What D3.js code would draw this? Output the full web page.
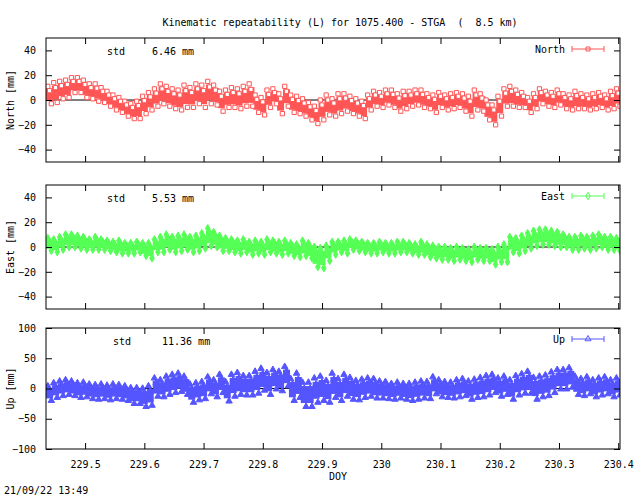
<!DOCTYPE html>
<html><head><meta charset="utf-8">
<script src="https://cdn.jsdelivr.net/npm/d3@7"></script>
<style>body{margin:0;background:#fff}text{font-family:"DejaVu Sans Mono",monospace;font-size:10px;white-space:pre}</style>
</head><body>
<script>
// bins every 0.01 DOY starting at 229.44
const doyStart = 229.44, doyStep = 0.01;
const northMid = [4,6,8,9,12,12,9,7,6,4,1,-2,-4,-7,-9,-8,-4,-1,2,5,3,1,0,3,2,5,3,6,4,-1,1,2,1,3,4,-3,-5,1,3,-3,3,-3,-4,-6,-9,-12,-8,-4,-6,-3,-2,-4,-6,-8,-2,1,0,2,1,-2,0,1,2,1,-1,-3,0,-2,-1,0,-2,-5,0,-2,-8,-12,-5,2,3,1,0,-4,-1,3,1,0,2,-1,-2,0,-1,-2,-1,0,-2,0,2];
const northAmp = [7,8,7,7,6,6,7,6,7,6,6,6,6,6,6,7,7,7,7,8,8,8,8,9,8,8,9,9,8,8,7,8,8,8,9,7,7,7,6,8,8,7,7,7,7,7,8,8,7,8,7,7,7,7,6,6,6,6,7,7,7,6,6,7,6,7,6,6,6,6,7,8,8,7,8,8,8,7,8,7,6,6,6,6,6,6,6,6,6,7,6,6,6,6,6,7,7];
const eastMid = [2,1,3,5,5,4,3,2,3,2,1,0,0,-1,-1,0,-2,-3,1,2,4,2,3,4,2,3,5,8,6,3,2,1,0,1,-1,0,-1,1,0,-1,0,-2,-3,-1,-3,-8,-9,-5,-1,0,0,2,1,0,-1,-1,0,-1,-1,0,0,-1,-2,-1,-3,-4,-5,-5,-6,-5,-6,-7,-5,-6,-6,-8,-6,-5,2,1,3,5,7,8,8,7,6,5,3,3,4,3,4,5,3,3,2];
const eastAmp = [5,5,5,5,5,5,5,4,5,4,4,4,5,4,4,4,5,6,5,6,6,6,6,6,6,6,6,7,6,6,5,5,5,5,5,5,5,5,5,5,5,5,5,6,6,8,8,6,5,4,5,4,4,4,4,4,4,4,4,4,4,4,4,5,5,5,5,5,5,5,5,5,5,5,5,6,6,7,6,6,6,6,6,6,6,6,6,5,5,5,5,5,5,5,5,5,5];
const upMid = [-8,-3,0,2,0,-3,-2,-5,-6,-5,-7,-5,-6,-8,-12,-12,-15,-12,2,0,5,8,10,5,-8,-5,-3,5,0,8,-5,5,8,5,5,10,15,8,15,12,20,-2,5,-10,-10,-3,0,-5,5,-2,5,0,-3,0,2,0,-2,-3,-5,-3,-5,-6,-4,-2,-3,5,0,-2,-3,0,2,-3,0,2,5,8,2,5,-2,5,8,10,0,3,5,10,15,15,18,5,2,5,0,3,5,0,3];
const upAmp = [12,12,12,12,12,12,12,12,12,12,12,12,12,12,13,13,15,16,15,14,15,15,15,15,15,14,14,14,14,15,16,18,18,16,16,18,18,18,16,16,16,18,20,20,20,20,20,18,20,18,18,18,16,15,15,16,14,14,13,13,13,14,14,14,14,14,14,13,13,14,14,15,15,16,16,15,15,15,16,16,16,18,18,17,17,17,16,16,16,15,14,14,14,14,14,14,14];
const xTicks = [229.5,229.6,229.7,229.8,229.9,230,230.1,230.2,230.3,230.4];

const W = 640, H = 496, left = 46, right = 620;
const svg = d3.select("body").append("svg").attr("width", W).attr("height", H);
const x = d3.scaleLinear().domain([229.434, 230.403]).range([left, right]);
const doy = d3.range(northMid.length).map(i => doyStart + i * doyStep);

svg.append("text").attr("x", 340).attr("y", 26).attr("text-anchor", "middle")
  .text("Kinematic repeatability (L) for 1075.400 - STGA  (  8.5 km)");

const panels = [
  {name: "North", label: "North [mm]", mid: northMid, amp: northAmp, color: "#ff5555", marker: "square",
   top: 38, bottom: 162, dom: [-50, 50], ticks: [-40,-20,0,20,40], std: "6.46 mm", stdX: [107, 152]},
  {name: "East", label: "East [mm]", mid: eastMid, amp: eastAmp, color: "#55ff55", marker: "diamond",
   top: 185, bottom: 309, dom: [-50, 50], ticks: [-40,-20,0,20,40], std: "5.53 mm", stdX: [107, 152]},
  {name: "Up", label: "Up [mm]", mid: upMid, amp: upAmp, color: "#5555ff", marker: "triangle",
   top: 328, bottom: 449, dom: [-100, 100], ticks: [-100,-50,0,50,100], std: "11.36 mm", stdX: [113, 162]}
];

panels.forEach(p => {
  const y = d3.scaleLinear().domain(p.dom).range([p.bottom, p.top]);
  const g = svg.append("g");
  const clip = "clip" + p.name;
  g.append("clipPath").attr("id", clip).append("rect")
    .attr("x", left).attr("y", p.top).attr("width", right - left).attr("height", p.bottom - p.top);

  // zero line
  g.append("line").attr("x1", left).attr("x2", right).attr("y1", y(0)).attr("y2", y(0)).attr("stroke", "#000");

  const sym = d3.symbol().type(p.marker === "square" ? d3.symbolSquare : p.marker === "diamond" ? d3.symbolDiamond : d3.symbolTriangle).size(18);
  const data = doy.map((d, i) => ({d, m: p.mid[i], a: p.amp[i]}));
  const marks = g.append("g").attr("clip-path", `url(#${clip})`);
  marks.selectAll("rect").data(data).join("rect")
    .attr("x", d => x(d.d) - 3.5).attr("width", 7)
    .attr("y", d => y(d.m + d.a * 0.7)).attr("height", d => y(d.m - d.a * 0.7) - y(d.m + d.a * 0.7))
    .attr("fill", p.color);
  // scattered markers at the edges of each bin
  const edge = data.flatMap(d => [[d.d - 0.003, d.m + d.a], [d.d + 0.003, d.m - d.a], [d.d, d.m + d.a * 0.5]]);
  marks.selectAll("path").data(edge).join("path")
    .attr("transform", d => `translate(${x(d[0])},${y(d[1])})`)
    .attr("d", sym).attr("fill", p.marker === "square" ? "#fff" : p.color)
    .attr("stroke", p.color).attr("stroke-width", 1);

  // frame and ticks
  g.append("rect").attr("x", left).attr("y", p.top).attr("width", right - left).attr("height", p.bottom - p.top)
    .attr("fill", "none").attr("stroke", "#000");
  g.append("g").attr("transform", `translate(${left},0)`)
    .call(d3.axisLeft(y).tickValues(p.ticks).tickSize(-6).tickPadding(10).tickFormat(d3.format("d")))
    .call(a => a.select(".domain").remove());
  g.append("g").attr("transform", `translate(${right},0)`)
    .call(d3.axisRight(y).tickValues(p.ticks).tickSize(-6).tickFormat(""))
    .call(a => a.select(".domain").remove());
  g.append("g").attr("transform", `translate(0,${p.bottom})`)
    .call(d3.axisBottom(x).tickValues(xTicks).tickSize(-6).tickFormat(p.name === "Up" ? d => d3.format("")(+d.toFixed(1)) : "").tickPadding(12))
    .call(a => a.select(".domain").remove());
  g.append("g").attr("transform", `translate(0,${p.top})`)
    .call(d3.axisTop(x).tickValues(xTicks).tickSize(-6).tickFormat(""))
    .call(a => a.select(".domain").remove());
  g.selectAll(".tick text").style("font-family", '"DejaVu Sans Mono",monospace').style("font-size", "10px");

  g.append("text").attr("transform", `translate(14,${(p.top + p.bottom) / 2}) rotate(-90)`)
    .attr("text-anchor", "middle").text(p.label);
  g.append("text").attr("x", p.stdX[0]).attr("y", p.top + 17).text("std");
  g.append("text").attr("x", p.stdX[1]).attr("y", p.top + 17).text(p.std);

  // legend
  g.append("text").attr("x", 565).attr("y", p.top + 15).attr("text-anchor", "end").text(p.name);
  g.append("line").attr("x1", 572).attr("x2", 604).attr("y1", p.top + 11).attr("y2", p.top + 11).attr("stroke", p.color);
  [572, 604].forEach(v => g.append("line").attr("x1", v).attr("x2", v).attr("y1", p.top + 8).attr("y2", p.top + 14).attr("stroke", p.color));
  g.append("path").attr("transform", `translate(588,${p.top + 11})`).attr("d", sym.size(16))
    .attr("fill", "none").attr("stroke", p.color);
});

svg.append("text").attr("x", 338).attr("y", 480).attr("text-anchor", "middle").text("DOY");
svg.append("text").attr("x", 4).attr("y", 494).text("21/09/22 13:49");
</script>
</body></html>
